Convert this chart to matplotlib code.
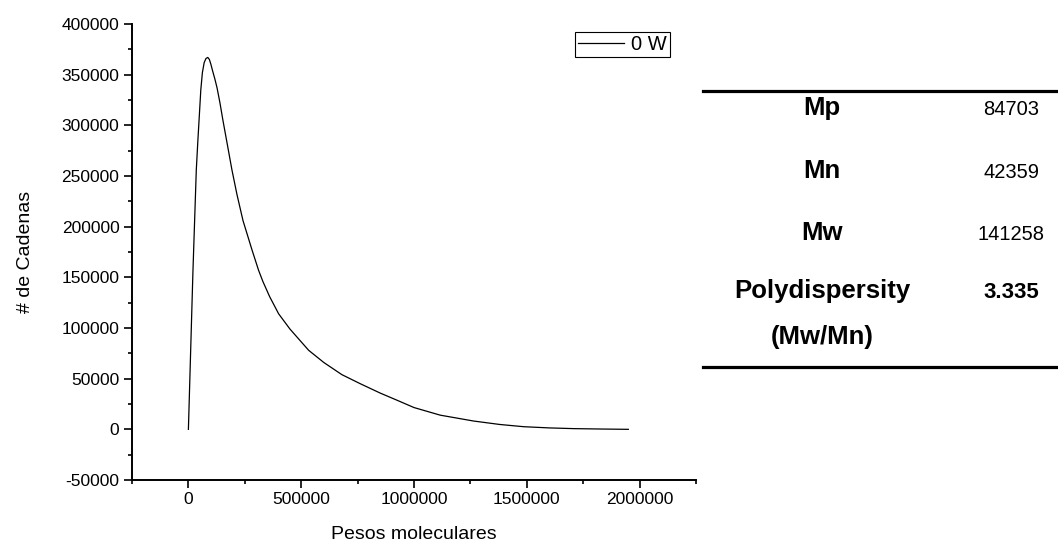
import matplotlib
matplotlib.use("Agg")
import matplotlib.pyplot as plt
from matplotlib.lines import Line2D
from matplotlib.ticker import MultipleLocator

plt.rcParams['font.family'] = ['Liberation Sans', 'DejaVu Sans']
plt.rcParams['axes.unicode_minus'] = False

# curve
peso = [0, 20000, 35000, 42000, 48000, 55000, 62000, 70000, 78000, 86000,
        93000, 100000, 107000, 117000, 127000, 140000, 153000, 171000, 193000,
        215000, 242000, 282000, 311000, 330000, 360000, 400000, 450000,
        533000, 600000, 680000, 762000, 850000, 925000, 1000000, 1116000,
        1264000, 1380000, 1486000, 1600000, 1708000, 1830000, 1950000]
cadenas = [0, 155000, 256000, 285000, 308000, 335000, 352000, 362000, 366000, 367000,
           365000, 360000, 354000, 346000, 337000, 322000, 305000, 283000, 256000,
           232000, 206000, 177000, 157000, 146000, 131000, 114000, 99000,
           78000, 66000, 54000, 45000, 35800, 28700, 21500, 14000,
           8200, 4800, 2600, 1400, 700, 300, 0]

# table on the right
tabla_nombres = ['Mp', 'Mn', 'Mw', 'Polydispersity', '(Mw/Mn)']
tabla_valores = ['84703', '42359', '141258', '3.335', '']

fig = plt.figure(figsize=(10.58, 5.46), dpi=100)
ax = fig.add_axes([132/1058, 1-480/546, (696-132)/1058, (480-24)/546])

ax.plot(peso, cadenas, color='black', linewidth=0.9, label='0 W')

ax.set_xlim(-250000, 2250000)
ax.set_ylim(-50000, 400000)
ax.xaxis.set_major_locator(MultipleLocator(500000))
ax.xaxis.set_minor_locator(MultipleLocator(250000))
ax.yaxis.set_major_locator(MultipleLocator(50000))
ax.yaxis.set_minor_locator(MultipleLocator(25000))
ax.ticklabel_format(style='plain', useOffset=False)
ax.spines['top'].set_visible(False)
ax.spines['right'].set_visible(False)
ax.spines['left'].set_linewidth(1.4)
ax.spines['bottom'].set_linewidth(1.4)
ax.tick_params(which='major', direction='out', length=6, width=1.2, labelsize=12.5, pad=3)
ax.tick_params(which='minor', direction='out', length=3.2, width=1.2)
ax.set_xlabel('Pesos moleculares', fontsize=14, labelpad=13)
ax.set_ylabel('# de Cadenas', fontsize=14, labelpad=20)

leg = ax.legend(loc='upper right', bbox_to_anchor=(670/1058, 1-31.7/546),
                bbox_transform=fig.transFigure, borderaxespad=0, fontsize=14.5,
                frameon=True, fancybox=False, edgecolor='black', framealpha=1,
                handlelength=2.3, handletextpad=0.35, borderpad=0.15)
leg.get_frame().set_linewidth(0.8)

# table lines
fig.add_artist(Line2D([703/1058, 1.0], [1-91/546, 1-91/546], color='black', linewidth=2.3))
fig.add_artist(Line2D([703/1058, 1.0], [1-367/546, 1-367/546], color='black', linewidth=2.3))

fila_y = [115, 178.3, 240, 298.3, 344.3]
for nombre, valor, yy in zip(tabla_nombres, tabla_valores, fila_y):
    fig.text(822/1058, 1-yy/546, nombre, ha='center', va='baseline',
             fontsize=18.5, fontweight='bold')
    if valor:
        negrita = valor == '3.335'
        fig.text(1011/1058, 1-yy/546, valor, ha='center', va='baseline',
                 fontsize=16 if negrita else 14.5,
                 fontweight='bold' if negrita else 'normal')

fig.savefig('out.png', dpi=100)
